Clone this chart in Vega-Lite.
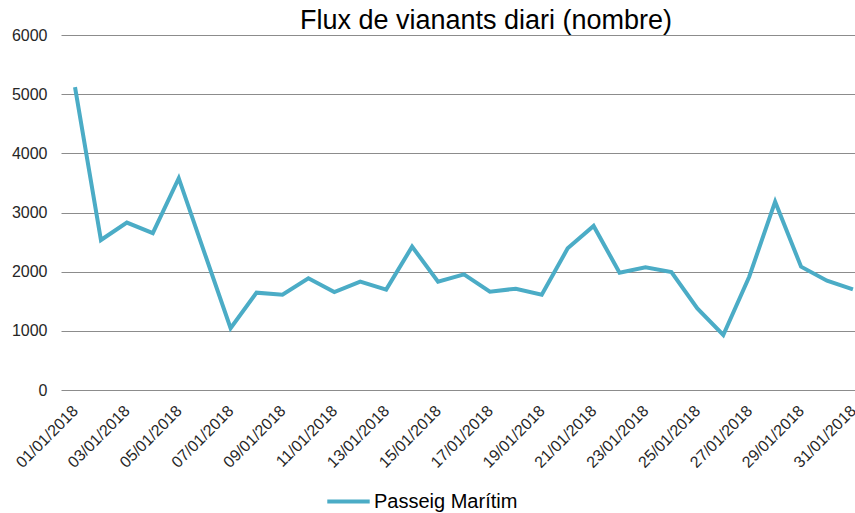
{
  "$schema": "https://vega.github.io/schema/vega-lite/v6.json",
  "width": 794,
  "height": 355,
  "autosize": {"type": "none"},
  "padding": {"left": 61, "top": 35, "right": 0, "bottom": 123},
  "background": "white",
  "title": {
    "text": "Flux de vianants diari (nombre)",
    "fontSize": 27,
    "font": "Liberation Sans",
    "fontWeight": "normal",
    "color": "#000000",
    "anchor": "middle",
    "frame": "group",
    "dx": 28,
    "offset": -8
  },
  "data": {
    "values": [
      {"data": "2018-01-01", "vianants": 5120, "serie": "Passeig Marítim"},
      {"data": "2018-01-02", "vianants": 2535, "serie": "Passeig Marítim"},
      {"data": "2018-01-03", "vianants": 2830, "serie": "Passeig Marítim"},
      {"data": "2018-01-04", "vianants": 2650, "serie": "Passeig Marítim"},
      {"data": "2018-01-05", "vianants": 3580, "serie": "Passeig Marítim"},
      {"data": "2018-01-06", "vianants": 2310, "serie": "Passeig Marítim"},
      {"data": "2018-01-07", "vianants": 1045, "serie": "Passeig Marítim"},
      {"data": "2018-01-08", "vianants": 1645, "serie": "Passeig Marítim"},
      {"data": "2018-01-09", "vianants": 1610, "serie": "Passeig Marítim"},
      {"data": "2018-01-10", "vianants": 1887, "serie": "Passeig Marítim"},
      {"data": "2018-01-11", "vianants": 1656, "serie": "Passeig Marítim"},
      {"data": "2018-01-12", "vianants": 1831, "serie": "Passeig Marítim"},
      {"data": "2018-01-13", "vianants": 1696, "serie": "Passeig Marítim"},
      {"data": "2018-01-14", "vianants": 2423, "serie": "Passeig Marítim"},
      {"data": "2018-01-15", "vianants": 1831, "serie": "Passeig Marítim"},
      {"data": "2018-01-16", "vianants": 1955, "serie": "Passeig Marítim"},
      {"data": "2018-01-17", "vianants": 1662, "serie": "Passeig Marítim"},
      {"data": "2018-01-18", "vianants": 1712, "serie": "Passeig Marítim"},
      {"data": "2018-01-19", "vianants": 1611, "serie": "Passeig Marítim"},
      {"data": "2018-01-20", "vianants": 2394, "serie": "Passeig Marítim"},
      {"data": "2018-01-21", "vianants": 2772, "serie": "Passeig Marítim"},
      {"data": "2018-01-22", "vianants": 1983, "serie": "Passeig Marítim"},
      {"data": "2018-01-23", "vianants": 2073, "serie": "Passeig Marítim"},
      {"data": "2018-01-24", "vianants": 1994, "serie": "Passeig Marítim"},
      {"data": "2018-01-25", "vianants": 1380, "serie": "Passeig Marítim"},
      {"data": "2018-01-26", "vianants": 930, "serie": "Passeig Marítim"},
      {"data": "2018-01-27", "vianants": 1915, "serie": "Passeig Marítim"},
      {"data": "2018-01-28", "vianants": 3183, "serie": "Passeig Marítim"},
      {"data": "2018-01-29", "vianants": 2084, "serie": "Passeig Marítim"},
      {"data": "2018-01-30", "vianants": 1848, "serie": "Passeig Marítim"},
      {"data": "2018-01-31", "vianants": 1701, "serie": "Passeig Marítim"}
    ]
  },
  "mark": {"type": "line", "strokeWidth": 4, "strokeJoin": "miter", "clip": false},
  "encoding": {
    "x": {
      "field": "data",
      "type": "temporal",
      "scale": {
        "type": "utc",
        "domain": [
          {"year": 2017, "month": 12, "date": 31, "hours": 11, "minutes": 2, "utc": true},
          {"year": 2018, "month": 1, "date": 31, "hours": 1, "minutes": 55, "utc": true}
        ],
        "nice": false
      },
      "axis": {
        "title": null,
        "values": [
          {"year": 2018, "month": 1, "date": 1, "utc": true},
          {"year": 2018, "month": 1, "date": 3, "utc": true},
          {"year": 2018, "month": 1, "date": 5, "utc": true},
          {"year": 2018, "month": 1, "date": 7, "utc": true},
          {"year": 2018, "month": 1, "date": 9, "utc": true},
          {"year": 2018, "month": 1, "date": 11, "utc": true},
          {"year": 2018, "month": 1, "date": 13, "utc": true},
          {"year": 2018, "month": 1, "date": 15, "utc": true},
          {"year": 2018, "month": 1, "date": 17, "utc": true},
          {"year": 2018, "month": 1, "date": 19, "utc": true},
          {"year": 2018, "month": 1, "date": 21, "utc": true},
          {"year": 2018, "month": 1, "date": 23, "utc": true},
          {"year": 2018, "month": 1, "date": 25, "utc": true},
          {"year": 2018, "month": 1, "date": 27, "utc": true},
          {"year": 2018, "month": 1, "date": 29, "utc": true},
          {"year": 2018, "month": 1, "date": 31, "utc": true}
        ],
        "labelExpr": "utcFormat(datum.value, '%d/%m/%Y')",
        "labelAngle": -45,
        "labelAlign": "right",
        "labelBaseline": "middle",
        "labelPadding": 18,
        "labelFont": "Liberation Sans",
        "labelFontSize": 16,
        "labelColor": "#262626",
        "labelOverlap": false,
        "labelBound": false,
        "labelFlush": false,
        "ticks": false,
        "domain": false,
        "grid": false
      }
    },
    "y": {
      "field": "vianants",
      "type": "quantitative",
      "scale": {"domain": [0, 6000], "nice": false},
      "axis": {
        "title": null,
        "values": [0, 1000, 2000, 3000, 4000, 5000, 6000],
        "format": "d",
        "labelFont": "Liberation Sans",
        "labelFontSize": 16,
        "labelColor": "#262626",
        "labelPadding": 14,
        "ticks": false,
        "domain": false,
        "grid": true,
        "gridColor": "#8c8c8c",
        "gridWidth": 1
      }
    },
    "color": {
      "field": "serie",
      "type": "nominal",
      "scale": {"range": ["#4BACC6"]},
      "legend": {
        "title": null,
        "orient": "none",
        "legendX": 264,
        "legendY": 443,
        "symbolType": "stroke",
        "symbolStrokeWidth": 4,
        "symbolSize": 1800,
        "labelFont": "Liberation Sans",
        "labelFontSize": 20,
        "labelColor": "#000000",
        "labelOffset": 2
      }
    }
  },
  "config": {"view": {"stroke": null}}
}
